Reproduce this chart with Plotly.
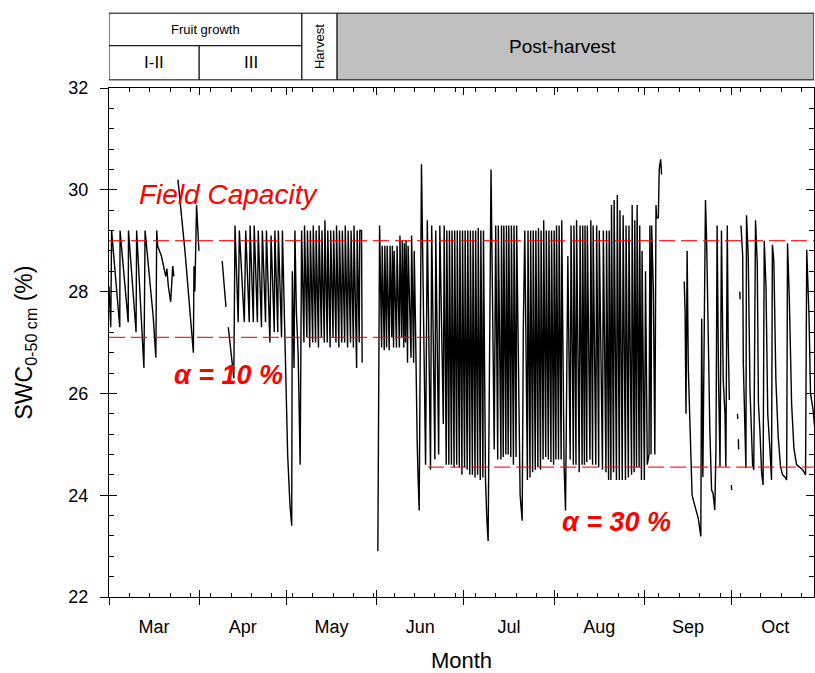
import plotly.graph_objects as go
import pandas as pd

BASE = pd.Timestamp("2015-03-01")
X_END = 242.3  # days after 1 March where the plot frame ends

# ---- SWC series (days after 1 March, SWC %) ; separate segments = gaps ----
seg_mar = [(0.0, 28.1), (0.6, 27.3), (0.9, 29.2), (3.7, 27.3), (3.8, 29.2), (6.6, 27.4),
           (6.7, 29.2), (9.3, 27.2), (9.5, 29.2), (12.0, 26.5), (12.4, 29.2), (15.2, 27.5),
           (16.1, 26.7), (16.4, 29.2), (16.7, 28.9), (18.0, 28.7), (19.5, 28.3), (19.9, 28.45),
           (20.4, 28.1), (21.2, 27.8), (21.9, 28.5), (22.3, 28.3)]
seg_mar2 = [(23.7, 30.2), (26.1, 28.8), (29.0, 26.8), (29.2, 28.5), (29.5, 28.0), (30.1, 29.7),
            (30.9, 28.8)]
seg_apr1 = [(38.9, 28.6), (40.2, 27.7)]
seg_spring = [(41.0, 27.3), (42.9, 26.3), (43.3, 29.3), (44.4, 27.4), (44.8, 29.2), (46.5, 27.4),
              (47.0, 29.2), (48.2, 27.4), (48.5, 29.3), (49.6, 27.4), (49.9, 29.3), (51.0, 27.4),
              (51.3, 29.2), (52.4, 27.3), (52.7, 29.2), (53.8, 27.4), (54.1, 29.2), (55.3, 27.0),
              (55.7, 29.1), (56.8, 27.2), (57.0, 29.2), (58.0, 27.2), (58.2, 29.2), (59.3, 27.1),
              (59.6, 29.2), (60.2, 27.5), (60.7, 26.1), (61.4, 24.8), (62.2, 23.8), (62.8, 23.4),
              (63.0, 28.4), (63.6, 26.5), (63.9, 29.2), (64.4, 27.6), (65.0, 26.8), (65.5, 25.2),
              (65.7, 24.6), (66.2, 29.2), (67.0, 27.0), (67.2, 29.3), (68.0, 27.1), (68.2, 29.2),
              (69.0, 26.9), (69.2, 29.2), (70.0, 27.0), (70.2, 29.3), (71.0, 27.0), (71.2, 29.2),
              (72.0, 26.9), (72.2, 29.3), (73.0, 27.1), (73.2, 29.2), (74.0, 27.0), (74.2, 29.4),
              (75.0, 27.0), (75.2, 29.2), (76.0, 26.9), (76.2, 29.2), (77.0, 27.1), (77.2, 29.2),
              (78.0, 27.0), (78.2, 29.3), (79.0, 26.9), (79.2, 29.2), (80.0, 27.0), (80.2, 29.2),
              (81.0, 27.0), (81.2, 29.3), (82.0, 26.9), (82.2, 29.2), (83.0, 27.0), (83.2, 29.2),
              (84.0, 26.9), (84.2, 29.3), (85.1, 26.5), (85.3, 29.2), (86.0, 27.0), (86.2, 29.2),
              (86.8, 29.2), (87.0, 26.6)]
seg_summer = [(92.4, 22.9), (93.0, 29.3), (93.7, 26.9), (93.9, 28.9), (94.6, 26.85), (94.8, 28.9),
              (95.4, 26.9), (95.6, 28.9), (96.3, 26.85), (96.6, 28.9), (97.2, 27.1), (97.4, 28.9),
              (97.8, 26.9), (98.0, 28.8), (98.8, 26.9), (99.0, 28.9), (99.8, 26.9), (100.0, 29.1),
              (100.6, 27.1), (100.8, 29.0), (101.3, 26.9), (101.5, 28.95), (101.9, 27.0), (102.1, 29.0),
              (102.6, 26.6), (102.8, 28.9), (103.8, 26.7), (104.0, 29.1), (104.7, 26.6), (104.9, 28.8),
              (105.3, 27.5), (105.6, 26.0), (105.9, 25.1), (106.2, 24.4), (106.6, 23.7), (107.4, 30.5),
              (107.7, 29.0), (108.1, 27.3), (108.5, 25.6), (108.8, 24.6),
              (109.4, 29.4), (110.5, 24.5), (110.9, 29.3), (112.0, 24.7), (112.3, 29.2), (113.3, 24.8),
              (113.7, 29.3), (114.9, 25.4), (115.2, 29.3), (115.9, 24.6), (116.1, 29.2), (116.8, 24.6),
              (117.0, 29.2), (117.7, 24.6), (117.9, 29.2), (118.6, 24.55), (118.8, 29.2), (119.5, 24.6),
              (119.7, 29.2), (120.4, 24.55), (120.6, 29.2), (121.3, 24.4), (121.5, 29.2), (122.2, 24.55),
              (122.4, 29.2),
              (123.1, 24.5), (123.3, 29.2), (124.0, 24.4), (124.2, 29.2), (124.9, 24.4), (125.1, 29.2),
              (125.8, 24.35), (126.0, 29.2), (126.7, 24.4), (126.9, 29.25), (127.6, 24.3), (127.8, 29.2),
              (128.5, 24.35), (128.7, 29.2), (129.4, 24.3), (129.8, 23.6), (130.3, 23.1), (131.3, 30.4),
              (131.6, 28.6), (132.0, 26.5), (132.4, 24.9), (132.9, 29.3),
              (133.6, 24.7), (133.8, 29.3), (134.7, 24.7), (134.9, 29.3), (135.5, 24.75), (135.7, 29.3),
              (136.4, 24.8), (136.6, 29.3), (137.2, 24.8), (137.4, 29.3), (138.1, 24.75), (138.3, 29.3),
              (139.0, 24.6), (139.2, 29.3), (139.9, 24.75), (140.1, 29.3), (140.9, 24.9), (141.3, 24.0),
              (142.0, 23.5), (142.4, 27.3), (142.9, 29.2),
              (143.8, 24.3), (144.0, 29.2), (144.7, 24.35), (144.9, 29.2), (145.6, 24.45), (145.8, 29.2),
              (146.5, 24.5), (146.7, 29.2), (147.4, 24.55), (147.6, 29.25), (148.3, 24.5), (148.5, 29.2),
              (149.2, 24.7), (149.4, 29.4), (150.1, 24.75), (150.3, 29.2), (151.0, 24.7), (151.2, 29.2),
              (151.9, 24.65), (152.1, 29.2), (152.8, 24.6), (153.0, 29.2), (153.6, 24.7), (153.8, 29.3),
              (154.5, 24.7), (154.7, 29.3), (155.4, 24.7), (155.6, 29.4), (156.4, 24.6), (156.9, 23.7),
              (157.7, 28.7), (158.5, 24.7), (158.8, 29.3), (159.6, 24.6), (159.8, 29.3), (160.5, 24.6),
              (160.7, 29.4), (161.6, 24.45), (161.9, 29.3), (162.6, 24.6), (162.8, 29.3), (163.4, 24.6),
              (163.6, 29.3), (164.2, 24.65), (164.4, 29.3), (165.3, 24.7), (165.6, 29.4), (166.2, 24.6),
              (166.4, 29.3), (167.3, 24.6), (167.6, 29.3), (168.3, 24.55), (168.5, 29.2), (169.6, 24.5),
              (169.9, 29.2), (170.8, 24.45), (171.0, 29.2), (171.7, 24.3), (171.9, 29.2), (172.5, 24.3),
              (172.7, 29.7), (173.4, 24.45), (173.6, 29.8), (174.4, 24.3), (174.7, 29.9), (175.4, 24.3),
              (175.6, 29.6), (176.4, 24.3), (176.7, 29.5), (177.5, 24.3), (177.7, 29.3), (178.5, 24.35),
              (178.7, 29.3), (179.6, 24.4), (179.8, 29.7), (180.5, 24.45), (180.7, 29.4), (181.3, 24.55),
              (181.5, 29.7), (182.2, 24.55), (182.4, 29.3), (183.0, 24.3), (183.2, 28.8), (184.0, 24.3),
              (184.4, 28.4), (185.0, 24.6), (185.6, 24.8), (185.9, 29.3), (186.3, 24.8), (186.5, 29.3),
              (187.1, 28.0), (187.6, 24.8), (188.0, 29.7), (188.2, 29.45), (188.8, 29.45), (189.1, 30.4),
              (189.6, 30.6), (189.9, 30.3)]
seg_sep = [(197.7, 28.2), (198.0, 27.6), (198.3, 25.6), (198.7, 28.8), (199.1, 26.5), (199.7, 25.15),
           (200.4, 24.0), (201.4, 23.78), (202.5, 23.55), (203.4, 23.19), (203.7, 27.47), (204.1, 24.36),
           (205.0, 29.8), (205.4, 29.0), (205.9, 27.1), (206.5, 25.28), (207.1, 24.1), (207.6, 24.04),
           (208.2, 23.71), (208.6, 24.9), (209.0, 29.3), (209.3, 27.25), (209.5, 26.26), (210.0, 24.56),
           (210.5, 29.2), (211.1, 26.26), (211.7, 25.6), (212.0, 24.56), (212.5, 29.3), (212.8, 27.1),
           (213.2, 25.87)]
frag_1 = [(213.9, 24.2), (214.0, 24.1)]
frag_2 = [(216.0, 25.6), (216.1, 25.5)]
frag_3 = [(216.3, 25.1), (216.4, 24.9)]
frag_4 = [(216.8, 28.0), (216.9, 27.85)]
seg_oct = [(217.2, 29.3), (217.8, 28.7), (218.0, 26.6), (218.6, 25.2), (218.9, 24.53), (219.1, 29.5),
           (219.7, 28.7), (220.3, 26.07), (220.8, 25.08), (221.2, 24.6), (221.6, 24.5), (222.2, 29.4),
           (222.8, 28.56), (223.2, 25.8), (223.7, 25.28), (224.3, 24.43), (224.8, 24.2), (225.2, 29.0),
           (225.8, 28.1), (226.4, 25.6), (227.2, 24.86), (227.7, 24.3), (228.0, 28.92), (228.5, 28.6),
           (229.2, 26.26), (230.0, 25.15), (230.8, 24.56), (231.5, 24.4), (232.3, 24.36), (232.9, 24.3),
           (233.2, 28.95), (233.8, 27.9), (234.6, 25.8), (235.4, 24.92), (236.3, 24.6), (237.2, 24.55),
           (238.4, 24.5), (239.4, 24.4), (239.8, 28.82), (240.6, 27.5), (241.1, 26.0), (242.0, 25.67),
           (242.6, 25.28)]

segments = [seg_mar, seg_mar2, seg_apr1, seg_spring, seg_summer, seg_sep,
            frag_1, frag_2, frag_3, frag_4, seg_oct]

# reference levels (SWC %)
field_capacity = 29.0
alpha10 = 27.1
alpha30 = 24.55
fc_span = (0.0, X_END)
a10_span = (0.0, 110.3)
a30_span = (109.7, X_END)

# phenological stages (days after 1 March)
stage_bounds = [0.0, 31.0, 66.3, 78.4, X_END]

FONT = "Arial, 'Liberation Sans', sans-serif"


def d2s(d):
    return (BASE + pd.Timedelta(days=d)).strftime("%Y-%m-%d %H:%M:%S")


xs, ys = [], []
for seg in segments:
    for d, v in seg:
        xs.append(d2s(d))
        ys.append(v)
    xs.append(None)
    ys.append(None)

fig = go.Figure()
fig.add_trace(go.Scatter(x=xs, y=ys, mode="lines", connectgaps=False,
                         line=dict(color="black", width=1.4), showlegend=False,
                         hoverinfo="skip"))
# invisible trace carrying overlay axes used for inward ticks
fig.add_trace(go.Scatter(x=[d2s(0.0)], y=[22.0], mode="markers", marker=dict(opacity=0),
                         xaxis="x2", yaxis="y2", showlegend=False, hoverinfo="skip"))

red = "rgba(255,0,0,0.85)"
for lvl, span in [(field_capacity, fc_span), (alpha10, a10_span), (alpha30, a30_span)]:
    fig.add_shape(type="line", xref="x", yref="y", x0=d2s(span[0]), x1=d2s(span[1]),
                  y0=lvl, y1=lvl, line=dict(color=red, width=1.2, dash="16px,6px"),
                  layer="above")

# header boxes (paper y above plot)
y_top, y_mid, y_bot = 1.147, 1.083, 1.016
boxes = [
    (stage_bounds[0], stage_bounds[2], y_mid, y_top, "white"),
    (stage_bounds[0], stage_bounds[1], y_bot, y_mid, "white"),
    (stage_bounds[1], stage_bounds[2], y_bot, y_mid, "white"),
    (stage_bounds[2], stage_bounds[3], y_bot, y_top, "white"),
    (stage_bounds[3], stage_bounds[4], y_bot, y_top, "#c0c0c0"),
]
for x0, x1, y0, y1, fc in boxes:
    fig.add_shape(type="rect", xref="x", yref="paper", x0=d2s(x0), x1=d2s(x1), y0=y0, y1=y1,
                  line=dict(color="black", width=1), fillcolor=fc, layer="above")

ann = []
ann.append(dict(x=d2s((stage_bounds[0] + stage_bounds[2]) / 2), y=(y_mid + y_top) / 2,
                text="Fruit growth", font=dict(size=13)))
ann.append(dict(x=d2s((stage_bounds[0] + stage_bounds[1]) / 2), y=(y_bot + y_mid) / 2,
                text="I-II", font=dict(size=17)))
ann.append(dict(x=d2s((stage_bounds[1] + stage_bounds[2]) / 2), y=(y_bot + y_mid) / 2,
                text="III", font=dict(size=17)))
ann.append(dict(x=d2s((stage_bounds[2] + stage_bounds[3]) / 2), y=(y_bot + y_top) / 2,
                text="Harvest", textangle=-90, font=dict(size=13)))
ann.append(dict(x=d2s(156.0), y=(y_bot + y_top) / 2, text="Post-harvest", font=dict(size=19)))
for a in ann:
    a.update(xref="x", yref="paper", showarrow=False, xanchor="center", yanchor="middle")
    a["font"].update(family=FONT, color="black")
    fig.add_annotation(**a)

labels = [("<i>Field Capacity</i>", 9.6, 29.9, 28), ("<b><i>α = 10 %</i></b>", 21.6, 26.36, 27),
          ("<b><i>α = 30 %</i></b>", 155.0, 23.47, 27)]
for t, d, v, s in labels:
    fig.add_annotation(x=d2s(d), y=v, xref="x", yref="y", text=t, showarrow=False,
                       xanchor="left", yanchor="middle",
                       font=dict(family=FONT, size=s, color="#ff0000"))

fig.update_layout(
    width=815, height=673,
    margin=dict(l=109, r=1, t=88, b=76),
    paper_bgcolor="white", plot_bgcolor="white",
    font=dict(family=FONT, color="black"),
    xaxis=dict(type="date", range=[d2s(0.0), d2s(X_END)], tickmode="linear",
               tick0=d2s(0.0), dtick="M1", tickformat="%b", ticklabelmode="period",
               ticks="outside", ticklen=7, tickwidth=1, tickcolor="black",
               showline=True, linecolor="black", linewidth=1, mirror=True,
               showgrid=False, zeroline=False, tickfont=dict(size=18),
               ticklabelstandoff=6,
               title=dict(text="Month", font=dict(size=22), standoff=18)),
    xaxis2=dict(type="date", overlaying="x", matches="x", anchor="y2", side="bottom",
                tickmode="linear", tick0=d2s(0.0), dtick="M1", ticks="inside", ticklen=7,
                tickcolor="black", showticklabels=False, showgrid=False, zeroline=False,
                showline=False, mirror="ticks",
                minor=dict(ticks="inside", ticklen=4, tickcolor="black",
                           dtick=7 * 86400000, tick0=d2s(0.0), showgrid=False)),
    yaxis=dict(range=[22, 32], tickmode="linear", tick0=22, dtick=2,
               ticks="outside", ticklen=8, tickwidth=1, tickcolor="black",
               showline=True, linecolor="black", linewidth=1, mirror=True,
               showgrid=False, zeroline=False, tickfont=dict(size=18),
               ticklabelstandoff=8,
               title=dict(text="SWC<sub>0-50 cm</sub> (%)", font=dict(size=23), standoff=29)),
    yaxis2=dict(overlaying="y", matches="y", anchor="x2", side="left",
                tickmode="linear", tick0=22, dtick=2, ticks="inside", ticklen=8,
                tickcolor="black", showticklabels=False, showgrid=False, zeroline=False,
                showline=False, mirror="ticks",
                minor=dict(ticks="inside", ticklen=5, tickcolor="black", dtick=0.4,
                           tick0=22, showgrid=False)),
)

fig.write_html("out.html")
